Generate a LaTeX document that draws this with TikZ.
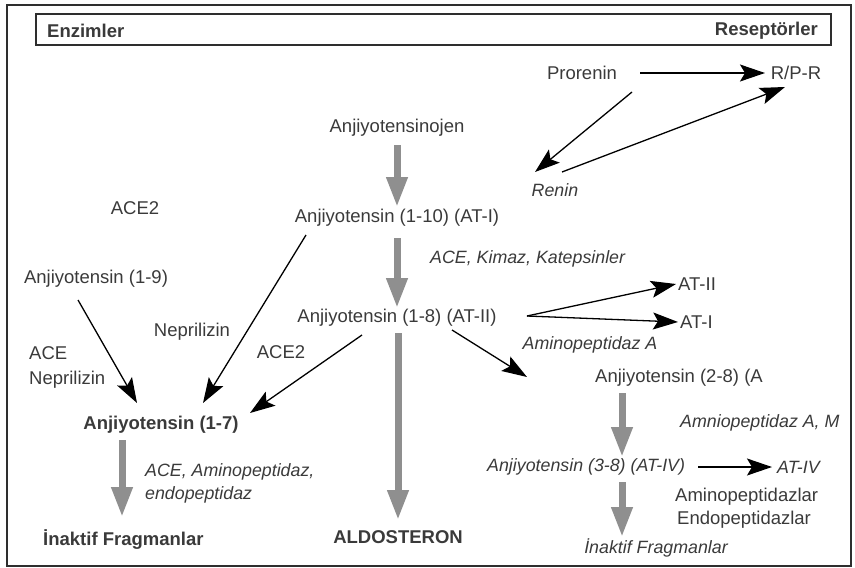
\documentclass[tikz,border=0pt]{standalone}
\usepackage{fontspec}
\setmainfont{Liberation Sans}
\usetikzlibrary{arrows.meta,calc}
\definecolor{txt}{HTML}{3A3A3A}
\definecolor{garr}{HTML}{8F8F8F}
\definecolor{frm}{HTML}{2E2E2E}
\begin{document}
\begin{tikzpicture}[x=1pt,y=-1pt,
  lbl/.style={inner sep=0pt, text=txt, font=\fontsize{18.5}{22}\selectfont},
  lbli/.style={lbl, font=\fontsize{17.8}{22}\selectfont\itshape},
  lblb/.style={lbl, font=\fontsize{18.5}{22}\selectfont\bfseries},
  blk/.style={draw=black, line width=1.3pt, -{Stealth[length=25pt,width=17pt,inset=5pt]}},
  gry/.style={draw=garr, line width=7pt, -{Triangle[length=30pt,width=20pt]}},
  frame/.style={draw=frm, line width=1.5pt}]
\useasboundingbox (0,0) rectangle (855,568);
% frames
\draw[frame] (7,5) rectangle (851,566);
\node[frame, minimum width=795pt, minimum height=31pt, inner sep=0pt] (hdr) at (433.5,29.5) {};
\node[lblb, anchor=west] (enz) at (47,31) {Enzimler};
\node[lblb, anchor=east] (rec) at (818,31) {Reseptörler};
% right/top part
\node[lbl] (prorenin) at (582,73) {Prorenin};
\node[lbl] (rpr) at (796,73) {R/P-R};
\node[lbli] (renin) at (555,190) {Renin};
\node[lbl] (ang) at (397,128) {Anjiyotensinojen};
\node[lbl] (at1) at (397,218) {Anjiyotensin (1-10) (AT-I)};
\node[lbli, anchor=west] (ack) at (430,259) {ACE, Kimaz, Katepsinler};
\node[lbl] (at2) at (397,318) {Anjiyotensin (1-8) (AT-II)};
\node[lbl, anchor=west] (atII) at (678,284) {AT-II};
\node[lbl, anchor=west] (atI) at (680,322) {AT-I};
\node[lbli] (apa) at (590,345) {Aminopeptidaz A};
\node[lbl, anchor=west] (a28) at (595,378) {Anjiyotensin (2-8) (A};
\node[lbli, anchor=west] (apam) at (680,423) {Amniopeptidaz A, M};
\node[lbli, anchor=west] (a38) at (487,467) {Anjiyotensin (3-8) (AT-IV)};
\node[lbli, anchor=west] (at4) at (777,467) {AT-IV};
\node[lbl, anchor=west] (apz) at (675,497) {Aminopeptidazlar};
\node[lbl, anchor=west] (epz) at (677,520) {Endopeptidazlar};
\node[lbli] (inak2) at (656,548) {İnaktif Fragmanlar};
\node[lblb] (aldo) at (398,537) {ALDOSTERON};
% left part
\node[lbl] (ace2a) at (135,208) {ACE2};
\node[lbl] (a19) at (96,279) {Anjiyotensin (1-9)};
\node[lbl] (nep1) at (192,332) {Neprilizin};
\node[lbl, anchor=west] (ace) at (29,353) {ACE};
\node[lbl, anchor=west] (nep2) at (29,380) {Neprilizin};
\node[lbl] (ace2b) at (281,352) {ACE2};
\node[lblb] (a17) at (161,425) {Anjiyotensin (1-7)};
\node[lbli, anchor=west] (aam) at (145,472) {ACE, Aminopeptidaz,};
\node[lbli, anchor=west] (endo) at (145,495) {endopeptidaz};
\node[lblb, anchor=west] (inak1) at (43,540) {İnaktif Fragmanlar};
% black connectors
\draw[blk] ($(prorenin)+(58,0)$) -- ($(rpr)+(-31,0)$);
\draw[blk] ($(prorenin)+(50,19)$) -- ($(renin)+(-20,-18)$);
\draw[blk] ($(renin)+(7,-18)$) -- ($(rpr)+(-11,14)$);
\draw[blk] ($(at2)+(130,-2)$) -- ($(atII.west)+(-2,0)$);
\draw[blk] ($(at2)+(130,-2)$) -- ($(atI.west)+(-2,0)$);
\draw[blk] ($(at2)+(55,12)$) -- ($(a28.west)+(-68,-1)$);
\draw[blk] ($(a38.west)+(211,0)$) -- ($(at4.west)+(-5,0)$);
\draw[blk] ($(a19)+(-18,21)$) -- ($(a17)+(-24,-22)$);
\draw[blk] ($(at1)+(-91,17)$) -- ($(a17)+(42,-22)$);
\draw[blk] ($(at2)+(-35,17)$) -- ($(a17)+(89,-12)$);
% grey arrows
\draw[gry] ($(ang)+(0,17)$) -- ($(at1)+(0,-11)$);
\draw[gry] ($(at1)+(0,20)$) -- ($(at2)+(0,-10)$);
\draw[gry] ($(at2)+(1,15)$) -- ($(aldo)+(0,-17)$);
\draw[gry] ($(a28.west)+(27,15)$) -- ($(a38.west)+(135,-10)$);
\draw[gry] ($(a38.west)+(135,15)$) -- ($(inak2)+(-34,-11)$);
\draw[gry] ($(a17)+(-39,15)$) -- ($(inak1.west)+(79,-23)$);
\end{tikzpicture}
\end{document}
